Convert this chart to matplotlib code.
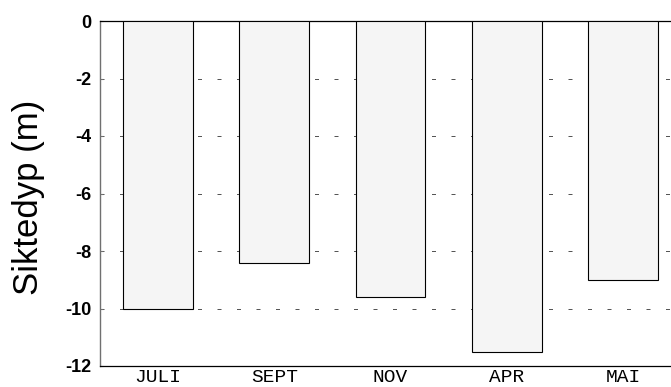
import matplotlib
matplotlib.use("Agg")
import matplotlib.pyplot as plt

# Secchi depth per sampling month
months = ["JULI", "SEPT", "NOV", "APR", "MAI"]
depths = [-10.0, -8.4, -9.6, -11.5, -9.0]
yticks = [0, -2, -4, -6, -8, -10, -12]

W, H, DPI = 671, 387, 100
fig = plt.figure(figsize=(W / DPI, H / DPI), dpi=DPI)

# axes frame in pixels: left 100, right 681 (runs past the edge), top 21, bottom 366
left, right, top, bottom = 100, 681, 21, 366
ax = fig.add_axes([left / W, (H - bottom) / H, (right - left) / W, (bottom - top) / H])

x = list(range(1, len(months) + 1))
ax.bar(x, depths, width=0.6, color="#f5f5f5", edgecolor="black", linewidth=0.8, zorder=3)

ax.set_xlim(0.5, 5.5)
ax.set_ylim(-12, 0)
ax.set_yticks(yticks)
ax.set_yticklabels([str(t) for t in yticks], fontfamily="Liberation Sans",
                   fontsize=13, fontweight="bold")
ax.set_xticks(x)
ax.set_xticklabels(months, fontfamily="Liberation Mono", fontsize=14)

ax.tick_params(axis="x", length=0, pad=2)
ax.tick_params(axis="y", direction="in", length=2, width=0.8, color="#707070", pad=6)

# dashed horizontal grid behind the bars
ax.yaxis.grid(True, color="#555555", linewidth=0.72, linestyle=(0, (4, 15.5)), zorder=0)
ax.set_axisbelow(True)

for side in ("top", "bottom"):
    ax.spines[side].set_color("black")
    ax.spines[side].set_linewidth(0.9)
ax.spines["left"].set_color("#707070")
ax.spines["left"].set_linewidth(1.0)
ax.spines["right"].set_visible(False)

ax.set_ylabel("Siktedyp (m)", fontfamily="Liberation Sans", fontsize=25)
ax.yaxis.set_label_coords((45 - left) / (right - left), 0.49)

fig.savefig("out.png", dpi=DPI)
